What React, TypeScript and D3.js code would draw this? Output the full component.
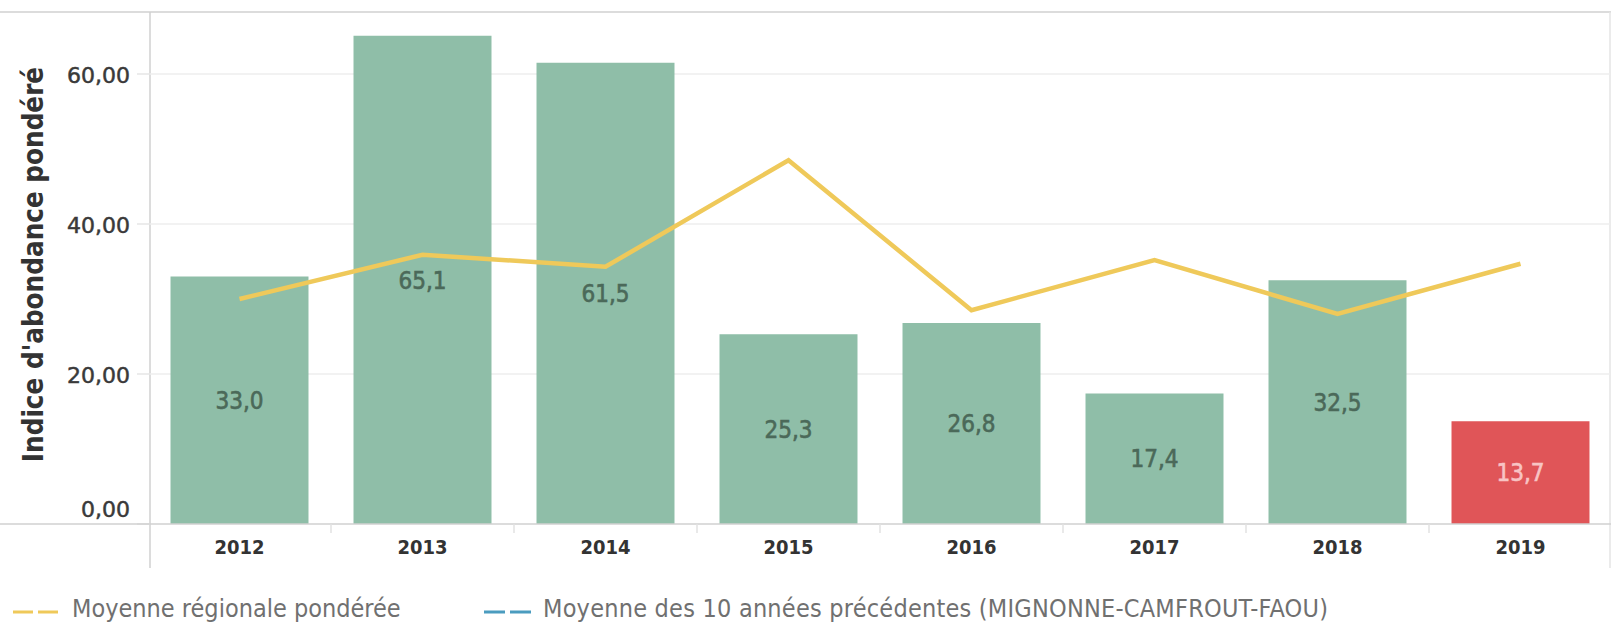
import React from "react";
import * as d3 from "d3";

const years = ["2012", "2013", "2014", "2015", "2016", "2017", "2018", "2019"];
const abundance = [33.0, 65.1, 61.5, 25.3, 26.8, 17.4, 32.5, 13.7];
const regionalMean = [30.0, 35.9, 34.3, 48.5, 28.5, 35.2, 28.0, 34.7];
const yTicks = [0, 20, 40, 60];
const legendLabels = [
  "Moyenne régionale pondérée",
  "Moyenne des 10 années précédentes (MIGNONNE-CAMFROUT-FAOU)",
];
const yTitle = "Indice d'abondance pondéré";

const W = 1611;
const H = 623;
const COND = "'DejaVu Sans Condensed', 'DejaVu Sans', sans-serif";
const DEJ = "'DejaVu Sans', sans-serif";

const fr = d3.formatLocale({
  decimal: ",",
  thousands: " ",
  grouping: [3],
  currency: ["", " €"],
});
const f2 = fr.format(".2f");
const f1 = fr.format(".1f");

export default function App() {
  const x = d3
    .scaleBand<string>()
    .domain(years)
    .range([148, 1612])
    .paddingInner(0.246)
    .paddingOuter(0.123);
  const y = d3.scaleLinear().domain([0, 60]).range([524, 74]);
  const step = x.step();
  const cx = (yr: string) => (x(yr) as number) + x.bandwidth() / 2;

  const line = d3
    .line<number>()
    .x((_, i) => cx(years[i]))
    .y((d) => y(d));

  const boundaries = years.slice(1).map((yr) => (x(yr) as number) - (step - x.bandwidth()) / 2);

  return (
    <svg
      width={W}
      height={H}
      style={{ position: "absolute", left: 0, top: 0, display: "block", background: "#fff" }}
    >
      {/* frame lines */}
      <line x1={0} x2={W} y1={12} y2={12} stroke="#d0d0d0" strokeWidth={1.5} />
      <line x1={150} x2={150} y1={12} y2={568} stroke="#d0d0d0" strokeWidth={1.5} />
      <line x1={1610} x2={1610} y1={12} y2={568} stroke="#e4e4e4" strokeWidth={1.5} />

      {/* grid lines and y ticks */}
      {yTicks.map((t) => (
        <g key={t}>
          {t !== 0 && (
            <line x1={150} x2={1610} y1={y(t)} y2={y(t)} stroke="#eeeeee" strokeWidth={1.5} />
          )}
          <line x1={137} x2={150} y1={y(t)} y2={y(t)} stroke="#e6e6e6" strokeWidth={1.5} />
          <text
            x={130}
            y={t === 0 ? y(t) - 7 : y(t) + 8.5}
            textAnchor="end"
            fontFamily={DEJ}
            fontSize={22}
            fill="#3a3a3a"
            stroke="#3a3a3a"
            strokeWidth={0.5}
          >
            {f2(t)}
          </text>
        </g>
      ))}

      {/* bars */}
      {years.map((yr, i) => (
        <rect
          key={yr}
          x={x(yr)}
          y={y(abundance[i])}
          width={x.bandwidth()}
          height={y(0) - y(abundance[i])}
          fill={i === years.length - 1 ? "#e05558" : "#8fbea8"}
        />
      ))}

      {/* x axis */}
      <line x1={0} x2={W} y1={524} y2={524} stroke="#d0d0d0" strokeWidth={1.5} />
      {boundaries.map((b, i) => (
        <line key={i} x1={b} x2={b} y1={524} y2={533} stroke="#e2e2e2" strokeWidth={1.5} />
      ))}
      {years.map((yr) => (
        <text
          key={yr}
          x={cx(yr)}
          y={554}
          textAnchor="middle"
          fontFamily={COND}
          fontWeight="bold"
          fontSize={20}
          fill="#333"
        >
          {yr}
        </text>
      ))}

      {/* line series */}
      <path
        d={line(regionalMean) || ""}
        fill="none"
        stroke="#efc95a"
        strokeWidth={4.5}
        strokeLinejoin="miter"
      />

      {/* bar value labels */}
      {years.map((yr, i) => {
        const c = i === years.length - 1 ? "#f8c4c4" : "#4b6959";
        return (
          <text
            key={yr}
            x={cx(yr)}
            y={y(abundance[i] / 2)}
            dy="0.36em"
            textAnchor="middle"
            fontFamily={COND}
            fontSize={24}
            fill={c}
            stroke={c}
            strokeWidth={0.6}
          >
            {f1(abundance[i])}
          </text>
        );
      })}

      {/* y title */}
      <text
        transform={`translate(43,${264.5}) rotate(-90)`}
        textAnchor="middle"
        fontFamily={COND}
        fontWeight="bold"
        fontSize={27.5}
        fill="#333"
      >
        {yTitle}
      </text>

      {/* legend */}
      <g>
        <line x1={13} x2={62} y1={612} y2={612} stroke="#efc95a" strokeWidth={3} strokeDasharray="20,5" />
        <text x={72} y={617} fontFamily={COND} fontSize={25} fill="#707070">
          {legendLabels[0]}
        </text>
        <line x1={484} x2={534} y1={612} y2={612} stroke="#4b9cbf" strokeWidth={3} strokeDasharray="21,5" />
        <text x={543} y={617} fontFamily={COND} fontSize={25} fill="#707070" textLength={785} lengthAdjust="spacing">
          {legendLabels[1]}
        </text>
      </g>
    </svg>
  );
}
